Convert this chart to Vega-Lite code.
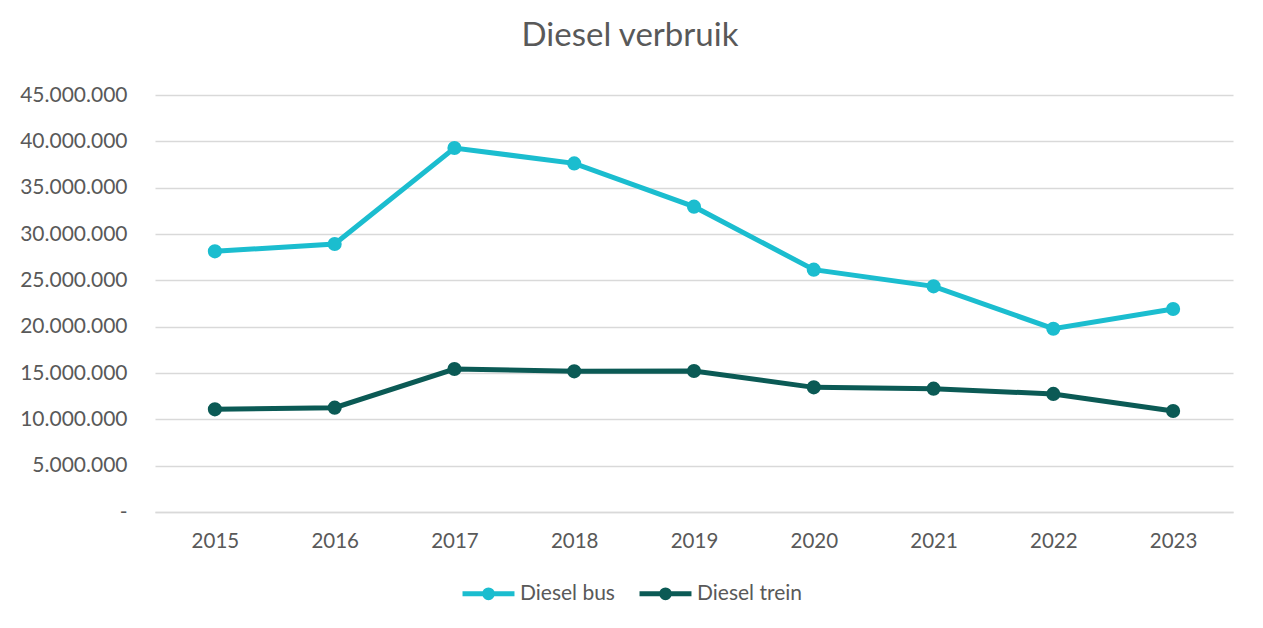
{
  "$schema": "https://vega.github.io/schema/vega-lite/v6.json",
  "width": 1078,
  "height": 417,
  "autosize": {"type": "none"},
  "padding": {"left": 155, "top": 95, "right": 30, "bottom": 116},
  "background": "white",
  "config": {
    "view": {"stroke": null},
    "font": "Lato",
    "locale": {"number": {"decimal": ",", "thousands": ".", "grouping": [3], "currency": ["€", ""]}}
  },
  "title": {
    "text": "Diesel verbruik",
    "fontSize": 33,
    "font": "Lato",
    "fontWeight": "normal",
    "color": "#595959",
    "anchor": "middle",
    "dx": -64,
    "offset": 31
  },
  "data": {
    "values": [
      {"year": "2015", "series": "Diesel bus", "value": 28130000},
      {"year": "2016", "series": "Diesel bus", "value": 28920000},
      {"year": "2017", "series": "Diesel bus", "value": 39280000},
      {"year": "2018", "series": "Diesel bus", "value": 37620000},
      {"year": "2019", "series": "Diesel bus", "value": 32950000},
      {"year": "2020", "series": "Diesel bus", "value": 26150000},
      {"year": "2021", "series": "Diesel bus", "value": 24350000},
      {"year": "2022", "series": "Diesel bus", "value": 19780000},
      {"year": "2023", "series": "Diesel bus", "value": 21910000},
      {"year": "2015", "series": "Diesel trein", "value": 11080000},
      {"year": "2016", "series": "Diesel trein", "value": 11260000},
      {"year": "2017", "series": "Diesel trein", "value": 15430000},
      {"year": "2018", "series": "Diesel trein", "value": 15180000},
      {"year": "2019", "series": "Diesel trein", "value": 15220000},
      {"year": "2020", "series": "Diesel trein", "value": 13450000},
      {"year": "2021", "series": "Diesel trein", "value": 13310000},
      {"year": "2022", "series": "Diesel trein", "value": 12740000},
      {"year": "2023", "series": "Diesel trein", "value": 10900000}
    ]
  },
  "mark": {"type": "line", "strokeWidth": 5, "point": {"filled": true, "size": 200, "opacity": 1}},
  "encoding": {
    "x": {
      "field": "year",
      "type": "ordinal",
      "scale": {"type": "point", "padding": 0.5},
      "axis": {
        "title": null,
        "labelAngle": 0,
        "labelFontSize": 20.5,
        "labelColor": "#595959",
        "labelPadding": 19,
        "ticks": false,
        "domain": true,
        "domainColor": "#d9d9d9",
        "domainWidth": 1.5,
        "grid": false
      }
    },
    "y": {
      "field": "value",
      "type": "quantitative",
      "scale": {"domain": [0, 45000000], "nice": false},
      "axis": {
        "title": null,
        "values": [0, 5000000, 10000000, 15000000, 20000000, 25000000, 30000000, 35000000, 40000000, 45000000],
        "format": ",d",
        "labelExpr": "datum.value == 0 ? '-' : datum.label",
        "labelFontSize": 21,
        "labelColor": "#595959",
        "labelPadding": 28,
        "ticks": false,
        "domain": false,
        "grid": true,
        "gridColor": "#d9d9d9",
        "gridWidth": 1.5
      }
    },
    "color": {
      "field": "series",
      "type": "nominal",
      "scale": {"domain": ["Diesel bus", "Diesel trein"], "range": ["#1BBDCF", "#0B5A55"]},
      "legend": {
        "title": null,
        "orient": "none",
        "direction": "horizontal",
        "legendX": 305,
        "legendY": 470,
        "padding": 0,
        "labelFontSize": 21,
        "labelColor": "#595959",
        "labelOffset": 3,
        "columnPadding": 14,
        "symbolType": "M-1,0H1M-0.15,0A0.15,0.15 0 1 1 0.15,0A0.15,0.15 0 1 1 -0.15,0Z",
        "symbolSize": 2700,
        "symbolStrokeWidth": 5,
        "symbolOpacity": 1,
        "encode": {
          "symbols": {"update": {"fill": {"scale": "color", "field": "value"}, "stroke": {"scale": "color", "field": "value"}}}
        }
      }
    }
  }
}
